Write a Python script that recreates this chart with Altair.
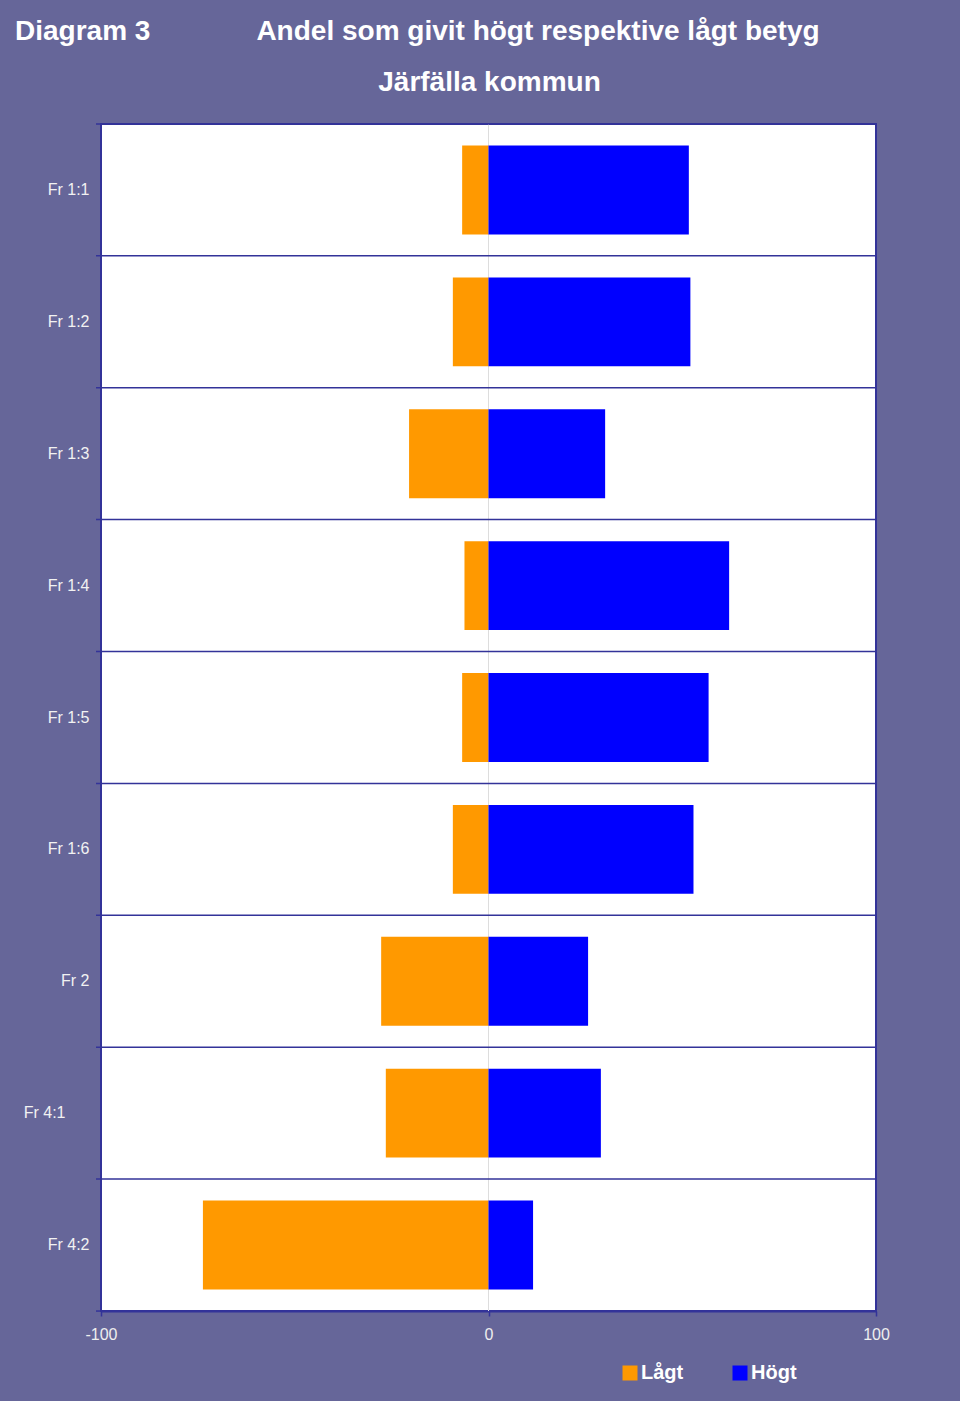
import altair as alt
import pandas as pd

# ---- data ----
categories = ["Fr 1:1", "Fr 1:2", "Fr 1:3", "Fr 1:4", "Fr 1:5", "Fr 1:6", "Fr 2", "Fr 4:1", "Fr 4:2"]
lagt = [-6.8, -9.2, -20.5, -6.2, -6.8, -9.2, -27.7, -26.5, -73.7]
hogt = [51.7, 52.1, 30.1, 62.1, 56.8, 52.9, 25.7, 29.0, 11.5]
series = ["Lågt", "Högt"]
colors = ["#FF9900", "#0000FF"]
x_ticks = [-100, 0, 100]
label_diagram = "Diagram 3"
title_main = "Andel som givit högt respektive lågt betyg"
title_sub = "Järfälla kommun"

rows = []
for c, l, h in zip(categories, lagt, hogt):
    rows.append({"Fråga": c, "Serie": series[0], "Andel": l})
    rows.append({"Fråga": c, "Serie": series[1], "Andel": h})
df = pd.DataFrame(rows)

W, H = 775, 1187
FONT = "Liberation Sans, Arial, Helvetica, sans-serif"
NAVY = "#333399"
BG = "#666699"

y_scale = alt.Scale(domain=categories, paddingInner=0.326, paddingOuter=0.163)
x_scale = alt.Scale(domain=[-100, 100], nice=False)

y_axis = alt.Axis(
    title=None, domain=False, ticks=False,
    labelFont=FONT, labelFontSize=16, labelColor="#F2F2F2",
    labelPadding={"condition": {"test": "datum.value === 'Fr 4:1'", "value": 36}, "value": 12},
    labelBaseline="middle",
)
x_axis = alt.Axis(
    title=None, values=x_ticks, grid=False,
    domain=True, domainColor=NAVY, domainWidth=2,
    ticks=True, tickColor=NAVY, tickSize=5, tickWidth=1.5,
    labelFont=FONT, labelFontSize=16, labelColor="#EEEEEE",
    labelPadding=10, labelFlush=False, labelOverlap=False,
    labelExpr="datum.value + ''",
)

zero_line = alt.Chart(pd.DataFrame({"Andel": [0]})).mark_rule(
    color="#DDDDDD", strokeWidth=1
).encode(x=alt.X("Andel:Q", scale=x_scale, axis=x_axis))

bars = alt.Chart(df).mark_bar().encode(
    y=alt.Y("Fråga:N", scale=y_scale, sort=categories, axis=y_axis),
    x=alt.X("Andel:Q", scale=x_scale, stack=None, axis=x_axis),
    color=alt.Color(
        "Serie:N", scale=alt.Scale(domain=series, range=colors), sort=series,
        legend=alt.Legend(
            orient="none", legendX=519, legendY=1239, direction="horizontal",
            title=None, symbolType="square", symbolSize=225, symbolStrokeWidth=0,
            labelFont=FONT, labelFontSize=20, labelFontWeight="bold", labelColor="white",
            labelOffset=1, columnPadding=46, padding=0,
        ),
    ),
)

sep_df = pd.DataFrame({"Fråga": categories})
separators = alt.Chart(sep_df).mark_rule(color=NAVY, strokeWidth=1.5, yOffset=-66).encode(
    y=alt.Y("Fråga:N", scale=y_scale, sort=categories, axis=y_axis),
    x=alt.value(-5), x2=alt.value(W),
)
sep_bottom = alt.Chart(pd.DataFrame({"Fråga": [categories[-1]]})).mark_rule(
    color=NAVY, strokeWidth=1.5, yOffset=66
).encode(
    y=alt.Y("Fråga:N", scale=y_scale, sort=categories, axis=y_axis),
    x=alt.value(-5), x2=alt.value(0),
)


def text_layer(txt, x, y, align):
    return alt.Chart(pd.DataFrame({"t": [txt]})).mark_text(
        align=align, baseline="alphabetic", font=FONT, fontSize=28,
        fontWeight="bold", color="white",
    ).encode(text="t:N", x=alt.value(x), y=alt.value(y))


t_diag = text_layer(label_diagram, -86, -84, "left")
t_main = text_layer(title_main, 437, -84, "center")
t_sub = text_layer(title_sub, 388.5, -33, "center")

chart = alt.layer(
    zero_line, bars, separators, sep_bottom, t_diag, t_main, t_sub
).properties(
    width=W, height=H, background=BG,
    padding={"left": 101, "top": 124, "right": 84, "bottom": 90},
    autosize=alt.AutoSizeParams(type="none"),
).configure_view(fill="white", stroke=NAVY, strokeWidth=2)

chart.save("out.html", embed_options={"renderer": "svg", "actions": False})
